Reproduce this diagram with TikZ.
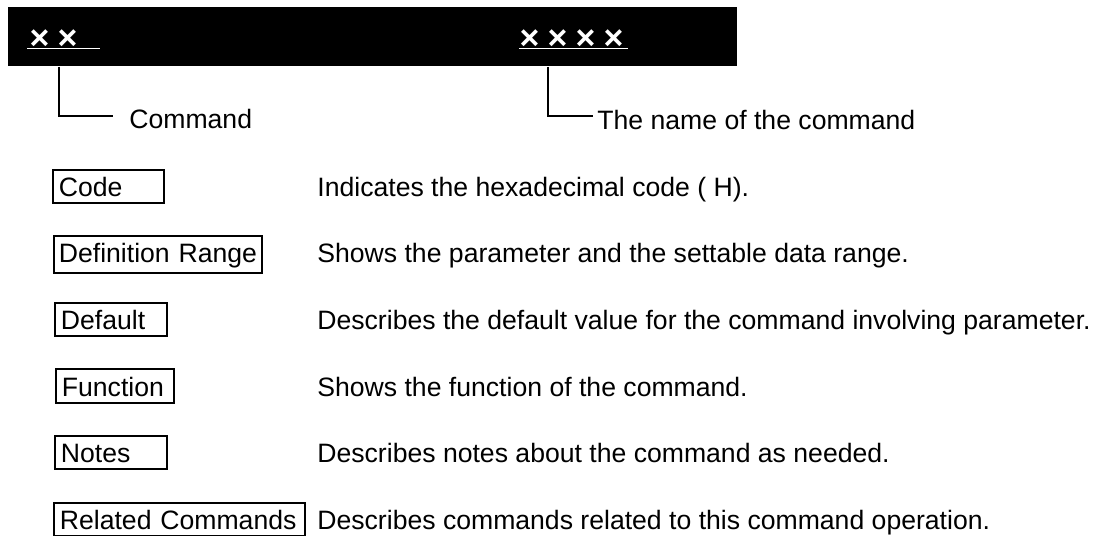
\documentclass[tikz,border=0pt]{standalone}
\usepackage{fontspec}
\setmainfont{Liberation Sans}
\begin{document}
\begin{tikzpicture}[x=0.5pt,y=-0.5pt,
  font=\fontsize{13.3}{16}\selectfont,
  keybox/.style={draw, line width=0.9pt, anchor=north west, inner xsep=3pt, inner ysep=0pt, align=left, text height=13.5pt, text depth=3pt},
  desc/.style={anchor=base west, inner sep=0pt},
  xmark/.style={text=white, anchor=base, inner sep=0pt, font=\fontsize{17}{20}\selectfont\bfseries},
  conn/.style={line width=0.8pt},
  uline/.style={white, line width=0.8pt}]
\useasboundingbox (0,0) rectangle (1100,536);

% header bar
\node[fill=black, anchor=north west, minimum width=364.5pt, minimum height=29.5pt, inner sep=0pt] (bar) at (8,7) {};
\node[xmark] (x1) at (39.5,49.5) {×};
\node[xmark] (x2) at (67.5,49.5) {×};
\node[xmark] (y1) at (529.5,49.5) {×};
\node[xmark] (y2) at (557.5,49.5) {×};
\node[xmark] (y3) at (585.5,49.5) {×};
\node[xmark] (y4) at (613.5,49.5) {×};
\coordinate (u1a) at (27,48.5);
\coordinate (u1b) at (100,48.5);
\coordinate (u2a) at (519,48.5);
\coordinate (u2b) at (628,48.5);
\draw[uline] (u1a) -- (u1b);
\draw[uline] (u2a) -- (u2b);

% callouts
\node[desc] (cmd) at (129,128) {Command};
\node[desc] (name) at (597,129) {The name of the command};
\coordinate (c1) at (59,116);
\coordinate (c1e) at (113,116);
\coordinate (c2) at (548,116);
\coordinate (c2e) at (593,116);
\draw[conn] (bar.south -| c1) -- (c1) -- (c1e);
\draw[conn] (bar.south -| c2) -- (c2) -- (c2e);

% rows
\node[keybox, text width=49.5pt] (kcode) at (52,169) {\mbox{Code}};
\node[desc] (dcode) at (317,196) {Indicates the hexadecimal code ( H).};

\node[keybox, text width=99pt, inner xsep=2.5pt, text depth=5pt] (krange) at (53,235) {\mbox{Definition Range}};
\node[desc] (drange) at (317,262) {Shows the parameter and the settable data range.};

\node[keybox, text width=50pt] (kdef) at (54,302) {\mbox{Default}};
\node[desc] (ddef) at (317,329) {Describes the default value for the command involving parameter.};

\node[keybox, text width=53pt, text height=14pt] (kfun) at (55,368) {\mbox{Function}};
\node[desc] (dfun) at (317,396) {Shows the function of the command.};

\node[keybox, text width=50pt] (knote) at (54,435) {\mbox{Notes}};
\node[desc] (dnote) at (317,462) {Describes notes about the command as needed.};

\node[keybox, text width=119.5pt] (krel) at (53,502) {\mbox{Related Commands}};
\node[desc] (drel) at (317,529) {Describes commands related to this command operation.};
\end{tikzpicture}
\end{document}
